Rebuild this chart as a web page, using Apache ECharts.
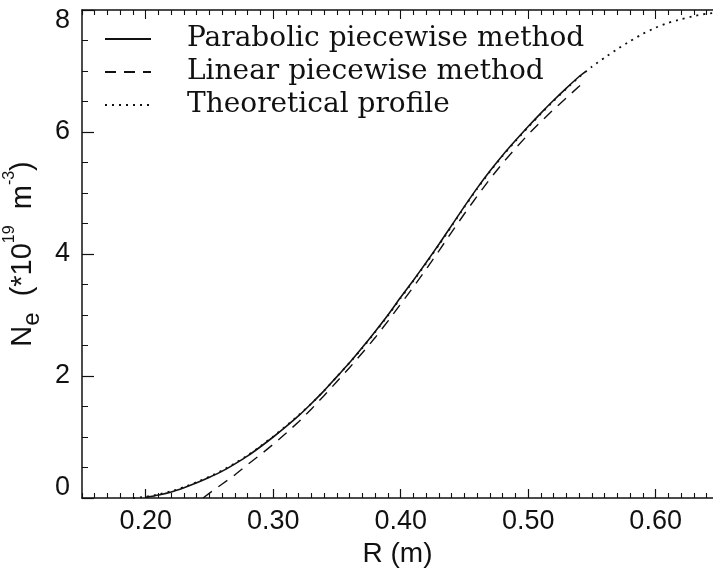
<!DOCTYPE html>
<html>
<head>
<meta charset="utf-8">
<script src="https://cdn.jsdelivr.net/npm/echarts@6/dist/echarts.min.js"></script>
<style>
  html, body { margin: 0; padding: 0; background: #fff; }
  #chart { width: 713px; height: 572px; }
</style>
</head>
<body>
<div id="chart"></div>
<script>
// R (m) and Ne values
const rTheory = [0.19, 0.20, 0.21, 0.22, 0.23, 0.24, 0.25, 0.26, 0.27, 0.28, 0.29, 0.30, 0.31, 0.32, 0.33, 0.34, 0.35, 0.36, 0.37, 0.38, 0.39, 0.40, 0.41, 0.42, 0.43, 0.44, 0.45, 0.46, 0.47, 0.48, 0.49, 0.50, 0.51, 0.52, 0.53, 0.54, 0.55, 0.56, 0.57, 0.58, 0.59, 0.60, 0.61, 0.62, 0.63, 0.64, 0.645];
const neTheory = [0.00, 0.02, 0.06, 0.11, 0.18, 0.26, 0.35, 0.45, 0.57, 0.70, 0.85, 1.01, 1.18, 1.36, 1.55, 1.76, 1.99, 2.22, 2.46, 2.72, 2.99, 3.28, 3.56, 3.85, 4.15, 4.46, 4.77, 5.07, 5.35, 5.61, 5.85, 6.08, 6.30, 6.51, 6.71, 6.90, 7.07, 7.22, 7.36, 7.49, 7.61, 7.71, 7.79, 7.85, 7.90, 7.94, 7.95];

const rParabolic = [0.20, 0.21, 0.22, 0.23, 0.24, 0.25, 0.26, 0.27, 0.28, 0.29, 0.30, 0.31, 0.32, 0.33, 0.34, 0.35, 0.36, 0.37, 0.38, 0.39, 0.40, 0.41, 0.42, 0.43, 0.44, 0.45, 0.46, 0.47, 0.48, 0.49, 0.50, 0.51, 0.52, 0.53, 0.54, 0.545];
const neParabolic = [0.01, 0.05, 0.10, 0.17, 0.25, 0.34, 0.44, 0.56, 0.69, 0.84, 1.00, 1.17, 1.35, 1.55, 1.76, 1.99, 2.22, 2.47, 2.73, 3.00, 3.29, 3.57, 3.86, 4.16, 4.47, 4.78, 5.08, 5.36, 5.62, 5.86, 6.09, 6.31, 6.52, 6.72, 6.91, 6.99];

const rLinear = [0.245, 0.25, 0.26, 0.27, 0.28, 0.29, 0.30, 0.31, 0.32, 0.33, 0.34, 0.35, 0.36, 0.37, 0.38, 0.39, 0.40, 0.41, 0.42, 0.43, 0.44, 0.45, 0.46, 0.47, 0.48, 0.49, 0.50, 0.51, 0.52, 0.53, 0.54, 0.545];
const neLinear = [0.00, 0.08, 0.23, 0.38, 0.55, 0.71, 0.88, 1.06, 1.25, 1.46, 1.68, 1.91, 2.14, 2.38, 2.63, 2.90, 3.18, 3.46, 3.75, 4.05, 4.36, 4.66, 4.95, 5.23, 5.49, 5.73, 5.96, 6.17, 6.37, 6.56, 6.75, 6.85];

const xLabels = [0.20, 0.30, 0.40, 0.50, 0.60];
const yLabels = [0, 2, 4, 6, 8];
const xMinor = [];
for (let i = 15; i <= 64; i++) {
  if (i % 10 !== 0) xMinor.push(i / 100);
}

const pairs = (xs, ys) => xs.map((x, i) => [x, ys[i]]);

const chart = echarts.init(document.getElementById('chart'));

const ink = '#111';
const sans = 'Liberation Sans';

const xBase = {
  type: 'value',
  min: 0.15,
  max: 0.645,
  splitLine: { show: false }
};

// extra x axes only carry ticks (minor ticks + top frame)
const tickAxis = (pos, values, len, lineShow) => Object.assign({}, xBase, {
  position: pos,
  axisLine: { show: true, onZero: false, lineStyle: { color: lineShow ? ink : 'rgba(0,0,0,0)', width: 1.5 } },
  axisTick: { show: true, inside: true, length: len, customValues: values, lineStyle: { color: ink, width: 1.1 } },
  axisLabel: { show: false, customValues: values }
});

const option = {
  backgroundColor: '#fff',
  animation: false,
  grid: { left: 82, right: 0, top: 10, bottom: 74, outerBoundsMode: 'none' },
  legend: {
    orient: 'vertical',
    left: 104,
    top: 25,
    padding: 0,
    itemWidth: 46,
    itemHeight: 14,
    itemGap: 5,
    itemStyle: { opacity: 0 },
    textStyle: {
      fontFamily: 'DejaVu Serif',
      fontSize: 28,
      lineHeight: 28,
      color: ink,
      padding: [0, 0, 0, 31]
    },
    data: ['Parabolic piecewise method', 'Linear piecewise method', 'Theoretical profile']
  },
  xAxis: [
    Object.assign({}, xBase, {
      position: 'bottom',
      name: 'R (m)',
      nameLocation: 'middle',
      nameGap: 34,
      nameTextStyle: { fontFamily: sans, fontSize: 28, color: ink },
      axisLine: { show: true, onZero: false, lineStyle: { color: ink, width: 1.5 } },
      axisTick: { show: true, inside: true, length: 9, customValues: xLabels, lineStyle: { color: ink, width: 1.2 } },
      axisLabel: {
        show: true, margin: 10, customValues: xLabels,
        fontFamily: sans, fontSize: 27, color: ink,
        formatter: v => v.toFixed(2)
      }
    }),
    tickAxis('bottom', xMinor, 5, false),
    tickAxis('top', xLabels, 9, true),
    tickAxis('top', xMinor, 5, false)
  ],
  yAxis: {
    type: 'value',
    min: 0,
    max: 8,
    interval: 2,
    position: 'left',
    splitLine: { show: false },
    axisLine: { show: true, onZero: false, lineStyle: { color: ink, width: 1.5 } },
    axisTick: { show: true, inside: true, length: 12, lineStyle: { color: ink, width: 1.2 } },
    minorTick: { show: true, splitNumber: 4, length: 6, lineStyle: { color: ink } },
    axisLabel: {
      margin: 12, fontFamily: sans, fontSize: 27, color: ink,
      customValues: yLabels,
      formatter: v => v === 0 ? '{lo|0}' : v === 8 ? '{hi|8}' : String(v),
      rich: {
        lo: { fontFamily: sans, fontSize: 27, color: ink, padding: [0, 0, 20, 0] },
        hi: { fontFamily: sans, fontSize: 27, color: ink, padding: [22, 0, 0, 0] }
      }
    },
    name: '{n|N}{sub|e}{n|  (*10}{sup|19}{n|  m}{sup|-3}{n|)}',
    nameLocation: 'middle',
    nameGap: 31,
    nameRotate: 90,
    nameTextStyle: {
      rich: {
        n: { fontFamily: sans, fontSize: 29, color: ink, lineHeight: 42, verticalAlign: 'middle' },
        sub: { fontFamily: sans, fontSize: 24, color: ink, lineHeight: 24, verticalAlign: 'bottom' },
        sup: { fontFamily: sans, fontSize: 16, color: ink, lineHeight: 17, verticalAlign: 'top' }
      }
    }
  },
  series: [
    {
      name: 'Parabolic piecewise method',
      type: 'line',
      xAxisIndex: 0,
      showSymbol: false,
      symbol: 'none',
      smooth: 0.2,
      data: pairs(rParabolic, neParabolic),
      lineStyle: { color: ink, width: 1.6, type: 'solid' },
      itemStyle: { color: ink },
      z: 3
    },
    {
      name: 'Linear piecewise method',
      type: 'line',
      xAxisIndex: 0,
      showSymbol: false,
      symbol: 'none',
      data: pairs(rLinear, neLinear),
      lineStyle: { color: ink, width: 1.4, type: [11, 8] },
      itemStyle: { color: ink },
      z: 2
    },
    {
      name: 'Theoretical profile',
      type: 'line',
      xAxisIndex: 0,
      showSymbol: false,
      symbol: 'none',
      smooth: 0.2,
      data: pairs(rTheory, neTheory),
      lineStyle: { color: ink, width: 1.8, type: [2, 5] },
      itemStyle: { color: ink },
      z: 4
    }
  ]
};

chart.setOption(option);
</script>
</body>
</html>
